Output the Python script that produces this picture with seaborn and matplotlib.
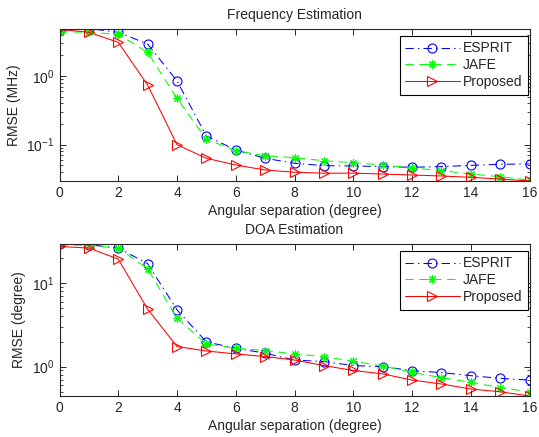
import numpy as np
import pandas as pd
import seaborn as sns
import matplotlib
matplotlib.use('Agg')
import matplotlib.pyplot as plt
from matplotlib.ticker import LogLocator, NullFormatter, MultipleLocator

# separação angular (graus)
sep = list(range(17))

# RMSE da frequencia (MHz)
freq_esprit = [4.6, 4.9, 4.33, 2.92, 0.846, 0.134, 0.0838, 0.0634, 0.0536, 0.0495,
               0.049, 0.048, 0.0469, 0.048, 0.050, 0.0518, 0.0524]
freq_jafe = [4.41, 4.33, 4.05, 2.21, 0.473, 0.12, 0.082, 0.069, 0.0647, 0.0585,
             0.0547, 0.0506, 0.046, 0.0419, 0.0374, 0.0342, 0.0306]
freq_prop = [4.78, 4.33, 3.09, 0.74, 0.1, 0.0634, 0.0506, 0.0428, 0.0397, 0.0385,
             0.0385, 0.0374, 0.0362, 0.035, 0.0335, 0.0316, 0.0296]

# RMSE do DOA (graus)
doa_esprit = [29.4, 28.8, 26.3, 17.1, 4.79, 1.98, 1.66, 1.45, 1.2, 1.15,
              1.03, 1.0, 0.896, 0.85, 0.78, 0.724, 0.69]
doa_jafe = [28.8, 28.3, 26.3, 14.9, 3.8, 1.87, 1.66, 1.56, 1.42, 1.32,
            1.16, 1.02, 0.855, 0.738, 0.649, 0.56, 0.5]
doa_prop = [27.5, 26.3, 19.4, 4.88, 1.74, 1.54, 1.42, 1.32, 1.2, 1.03,
            0.9, 0.82, 0.69, 0.62, 0.54, 0.5, 0.445]

metodos = ['ESPRIT', 'JAFE', 'Proposed']

sns.set_style('ticks')
plt.rcParams['font.family'] = ['Liberation Sans', 'DejaVu Sans']
plt.rcParams['mathtext.fontset'] = 'custom'
plt.rcParams['mathtext.rm'] = 'Liberation Sans'
plt.rcParams['mathtext.it'] = 'Liberation Sans:italic'
plt.rcParams['font.size'] = 10
plt.rcParams['xtick.direction'] = 'in'
plt.rcParams['ytick.direction'] = 'in'
plt.rcParams['xtick.top'] = True
plt.rcParams['ytick.right'] = True
plt.rcParams['lines.scale_dashes'] = False

# estilo parecido com o do matlab
estilos = {
    'ESPRIT': dict(color='#0000ff', linestyle=(0, (6, 3, 1, 3)), marker='o',
                   mfc='none', mec='#0000ff', markersize=6.5),
    'JAFE': dict(color='#00ff00', linestyle=(0, (6, 4)), marker=(8, 2, 0),
                 mfc='#00ff00', mec='#00ff00', markersize=6),
    'Proposed': dict(color='#ff0000', linestyle='-', marker='>',
                     mfc='none', mec='#ff0000', markersize=7),
}


def painel(ax, series, titulo, ylabel, ylim):
    for nome, vals in zip(metodos, series):
        df = pd.DataFrame({'sep': sep, 'rmse': vals})
        sns.lineplot(data=df, x='sep', y='rmse', ax=ax, label=nome, linewidth=0.75,
                     markeredgewidth=0.8, **estilos[nome])
    ax.set_yscale('log')
    ax.set_xlim(0, 16)
    ax.set_ylim(*ylim)
    ax.xaxis.set_major_locator(MultipleLocator(2))
    ax.yaxis.set_major_locator(LogLocator(base=10))
    ax.yaxis.set_minor_locator(LogLocator(base=10, subs=np.arange(2, 10)))
    ax.yaxis.set_minor_formatter(NullFormatter())
    ax.tick_params(which='major', length=4, width=0.7, labelsize=10)
    ax.tick_params(which='minor', length=2, width=0.6)
    for s in ax.spines.values():
        s.set_linewidth(0.8)
    ax.set_title(titulo, fontsize=10, pad=7)
    ax.set_xlabel('Angular separation (degree)', fontsize=10, labelpad=3)
    ax.set_ylabel(ylabel, fontsize=10)
    leg = ax.legend(loc='upper right', bbox_to_anchor=(0.997, 0.955), fancybox=False,
                    framealpha=1, edgecolor='black', fontsize=10, handlelength=3.9,
                    borderpad=0.4, labelspacing=0.2, handletextpad=0.25,
                    borderaxespad=0)
    leg.get_frame().set_linewidth(0.8)


fig = plt.figure(figsize=(5.39, 4.37), dpi=100)
ax1 = fig.add_axes([0.1104, 0.5858, 0.872, 0.3478])
ax2 = fig.add_axes([0.1104, 0.0938, 0.872, 0.3478])

painel(ax1, [freq_esprit, freq_jafe, freq_prop], 'Frequency Estimation', 'RMSE (MHz)', (0.0296, 4.83))
painel(ax2, [doa_esprit, doa_jafe, doa_prop], 'DOA Estimation', 'RMSE (degree)', (0.445, 29.4))
fig.align_ylabels([ax1, ax2])

fig.savefig('out.png', dpi=100)
